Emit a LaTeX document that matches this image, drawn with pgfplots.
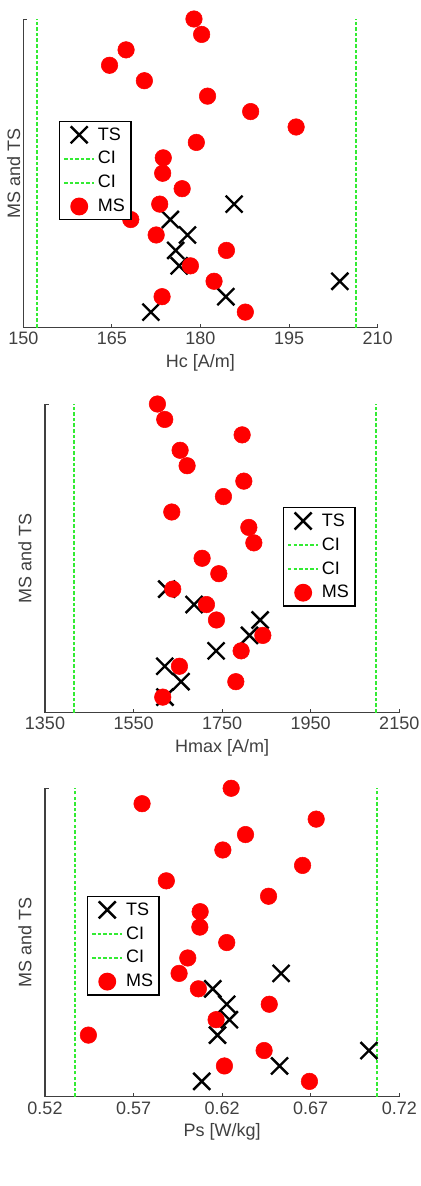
\documentclass[border=0pt]{standalone}
\usepackage{fontspec}
\setmainfont{Liberation Sans}
\usepackage{pgfplots}
\usepackage{pgfplotstable}
\pgfplotsset{compat=1.18}

\definecolor{axgray}{gray}{0.25}
\definecolor{cigreen}{rgb}{0.2,0.92,0.2}
\newcommand{\fsz}{\fontsize{13.5}{16}\selectfont}

\pgfplotstableread{
x y
178.9 20
180.2 19
167.4 18
164.6 17
170.5 16
181.2 15
188.5 14
196.2 13
179.3 12
173.7 11
173.6 10
176.9 9
173.1 8
168.2 7
172.5 6
184.4 5
178.3 4
182.3 3
173.5 2
187.6 1
}\msA
\pgfplotstableread{
x y
185.7 8
174.9 7
177.8 6
175.8 5
176.4 4
203.6 3
184.3 2
171.6 1
}\tsA
\pgfplotstableread{
x y
1603.9 20
1620.4 19
1795.2 18
1655.1 17
1670.9 16
1799.0 15
1753.0 14
1636.3 13
1810.3 12
1821.6 11
1704.8 10
1742.5 9
1638.5 8
1714.6 7
1737.2 6
1841.9 5
1792.9 4
1653.6 3
1780.9 2
1615.9 1
}\msB
\pgfplotstableread{
x y
1625.0 8
1686.7 7
1835.9 6
1811.8 5
1736.4 4
1620.4 3
1657.3 2
1621.0 1
}\tsB
\pgfplotstableread{
x y
0.6251 20
0.5748 19
0.6731 18
0.6332 17
0.6204 16
0.6654 15
0.5885 14
0.6462 13
0.6076 12
0.6074 11
0.6226 10
0.6006 9
0.5957 8
0.6066 7
0.6466 6
0.6166 5
0.5445 4
0.6437 3
0.6213 2
0.6693 1
}\msC
\pgfplotstableread{
x y
0.6533 8
0.6147 7
0.6226 6
0.6241 5
0.6174 4
0.7029 3
0.6524 2
0.6085 1
}\tsC

\pgfplotsset{
  mystyle/.style={
    scale only axis, width=265.7pt, height=231.4pt,
    axis lines*=left,
    axis line style={axgray, line width=0.8pt},
    tick align=inside,
    major tick length=3pt,
    tick style={axgray, line width=0.6pt},
    ymin=0, ymax=20, ytick={20}, yticklabels={},
    ylabel={MS and TS},
    ylabel style={at={(axis description cs:-0.025,0.5)}, anchor=south, font=\fsz, text=axgray},
    xlabel style={font=\fsz, text=axgray},
    tick label style={font=\fsz, text=axgray},
    /pgf/number format/assume math mode=true,
    clip=false,
    legend cell align=left,
    legend style={draw=black, line width=1pt, font=\fsz, fill=white, inner sep=2.5pt, row sep=3pt},
    legend image code/.code={\draw[mark repeat=2,mark phase=2,#1] plot coordinates {(0cm,0cm) (0.4cm,0cm) (0.8cm,0cm)};},
  },
  tsstyle/.style={only marks, mark=x, mark size=9pt, black, mark options={line width=1.8pt}},
  msstyle/.style={only marks, mark=*, mark size=6.2pt, red, mark options={draw=red, fill=red}},
  cistyle/.style={draw=cigreen, line width=1.4pt, dash pattern=on 2.6pt off 1.6pt},
}

\begin{document}
\begin{tikzpicture}[x=1pt,y=1pt]
\path[use as bounding box] (0,0) rectangle (315.75,-889.5);

\begin{axis}[mystyle, at={(17.5pt,-14.25pt)}, anchor=north west,
  xmin=150, xmax=210, xtick={150,165,180,195,210}, xticklabels={150,165,180,195,210},
  xlabel={Hc [A/m]},
  ylabel style={at={(axis description cs:-0.008,0.5)}, inner sep=0pt},
  legend style={at={(0.101,0.67)}, anchor=north west}]
\addplot[tsstyle] table[x=x,y=y] {\tsA};
\addplot[cistyle] coordinates {(152.3,0) (152.3,20)};
\addplot[cistyle] coordinates {(206.4,0) (206.4,20)};
\addplot[msstyle] table[x=x,y=y] {\msA};
\legend{TS,CI,CI,MS}
\end{axis}

\begin{axis}[mystyle, at={(33.75pt,-303pt)}, anchor=north west,
  xmin=1350, xmax=2150, xtick={1350,1550,1750,1950,2150}, xticklabels={1350,1550,1750,1950,2150},
  xlabel={Hmax [A/m]},
  legend style={at={(0.672,0.666)}, anchor=north west}]
\addplot[tsstyle] table[x=x,y=y] {\tsB};
\addplot[cistyle] coordinates {(1415.5,0) (1415.5,20)};
\addplot[cistyle] coordinates {(2098,0) (2098,20)};
\addplot[msstyle] table[x=x,y=y] {\msB};
\legend{TS,CI,CI,MS}
\end{axis}

\begin{axis}[mystyle, at={(33.75pt,-591.2pt)}, anchor=north west,
  xmin=0.52, xmax=0.72, xtick={0.52,0.57,0.62,0.67,0.72}, xticklabels={0.52,0.57,0.62,0.67,0.72},
  xlabel={Ps [W/kg]},
  legend style={at={(0.119,0.651)}, anchor=north west}]
\addplot[tsstyle] table[x=x,y=y] {\tsC};
\addplot[cistyle] coordinates {(0.5369,0) (0.5369,20)};
\addplot[cistyle] coordinates {(0.7076,0) (0.7076,20)};
\addplot[msstyle] table[x=x,y=y] {\msC};
\legend{TS,CI,CI,MS}
\end{axis}
\end{tikzpicture}
\end{document}
